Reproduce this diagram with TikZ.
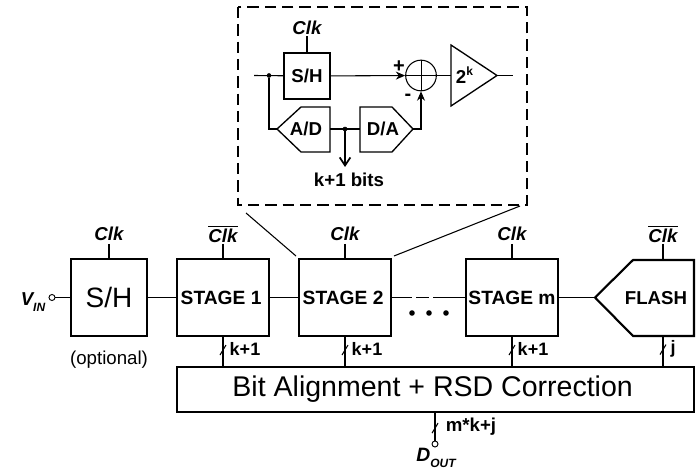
\documentclass[tikz,border=0pt]{standalone}
\usepackage{fontspec}
\setmainfont{Liberation Sans}
\usetikzlibrary{calc,arrows.meta}
\tikzset{
	wire/.style={line width=0.8pt},
	buswire/.style={line width=1.3pt},
	solidhead/.style={-{Stealth[length=7pt,width=6pt]}},
	barbhead/.style={-{Straight Barb[length=6pt,width=8pt]}},
	bigbox/.style={draw, line width=1.6pt, inner sep=0pt, minimum height=57.5pt},
	smallbox/.style={draw, line width=1pt, inner sep=0pt, minimum width=34.5pt, minimum height=34.5pt, font=\bfseries\fontsize{14}{15}\selectfont},
	stagebox/.style={bigbox, minimum width=69pt, font=\bfseries\fontsize{14.4}{15}\selectfont},
	clklabel/.style={font=\bfseries\itshape\fontsize{14}{16}\selectfont, inner sep=1pt},
	buslabel/.style={font=\bfseries\fontsize{13.5}{15}\selectfont, inner sep=0pt},
	blocktext/.style={font=\bfseries\fontsize{14}{15}\selectfont, inner sep=0pt},
	pin/.style={draw, circle, fill=white, line width=0.7pt, inner sep=0pt, minimum size=4.5pt},
	jointdot/.style={draw, circle, fill=black, inner sep=0pt, minimum size=3pt}
}
\def\bustick(#1){\draw[line width=0.8pt] ($(#1)+(-3,5)$) -- ($(#1)+(3,-5)$);}
\begin{document}
\begin{tikzpicture}[x=0.75pt,y=-0.75pt]
		%%%%% START %%%%%
		\useasboundingbox (0,0) rectangle (698,473);
		
		% detail of one stage
		\draw[line width=1.5pt, dash pattern=on 8.5pt off 4.5pt] (238,7) rectangle (527,205);
		
		\coordinate (inlet) at (254,75.5);
		\node[jointdot] (split) at (269,75.5) {};
		\node[smallbox] (innersh) at (307,76) {S/H};
		\node[clklabel] (innerclk) at (307,28) {Clk};
		\node[draw, circle, wire, inner sep=0pt, minimum size=23pt] (sum) at (421,75.5) {};
		\draw[line width=0.5pt] (sum.west) -- (sum.east) (sum.north) -- (sum.south);
		\node[font=\bfseries\fontsize{15}{15}\selectfont, inner sep=0pt] (plus) at (399,67) {+};
		\node[font=\bfseries\fontsize{15}{15}\selectfont, inner sep=0pt] (minus) at (408,97) {-};
		
		\coordinate (amplin) at (451,75.5);
		\coordinate (amptip) at (497,75.5);
		\coordinate (ampout) at (513,75.5);
		\draw[line width=1pt] (451,45) -- (amptip) -- (451,106) -- cycle;
		\node[blocktext] (gain) at (464.5,75) {2\raisebox{0.45em}{\fontsize{9}{9}\selectfont k}};
		
		\coordinate (adtip) at (277,129);
		\coordinate (adout) at (330,129);
		\coordinate (datip) at (413,129);
		\coordinate (dain) at (360,129);
		\draw[line width=1pt] (adtip) -- (301,107) -- (330,107) -- (330,152) -- (301,152) -- cycle;
		\draw[line width=1pt] (dain |- 0,107) -- (392,107) -- (datip) -- (392,152) -- (dain |- 0,152) -- cycle;
		\node[blocktext] (adtext) at (306,129) {A/D};
		\node[blocktext] (datext) at (383,129) {D/A};
		\node[jointdot] (tap) at (345,129) {};
		\node[buslabel, font=\bfseries\fontsize{14}{15}\selectfont] (bits) at (349,180) {k+1 bits};
		\coordinate (tapend) at (345,167);
		
		\draw[wire] (inlet) -- (innersh);
		\draw[wire] (innerclk) -- (innersh);
		\draw[wire, solidhead] (innersh) -- (sum);
		\draw[wire] (sum) -- (amplin);
		\draw[wire] (amptip) -- (ampout);
		\draw[wire] (split) |- (adtip);
		\draw[buswire] (adout) -- (dain);
		\draw[buswire, barbhead] (tap) -- (tapend);
		\draw[wire, solidhead] (datip) -| (sum);
		
		% zoom lines
		\coordinate (zoomla) at (246,213);
		\coordinate (zoomlb) at (296,256);
		\coordinate (zoomra) at (520,206);
		\coordinate (zoomrb) at (394,256);
		\draw[wire] (zoomla) -- (zoomlb);
		\draw[wire] (zoomra) -- (zoomrb);
		
		% main chain
		\node[bigbox, minimum width=57pt, font=\fontsize{21}{24}\selectfont] (sh) at (109,297.5) {S/H};
		\node[stagebox] (stage1) at (223,297.5) {\hspace*{-0.2em}STAGE 1};
		\node[stagebox] (stage2) at (345,297.5) {\hspace*{-0.2em}STAGE 2};
		\node[stagebox] (stagem) at (512,297.5) {STAGE m};
		
		\coordinate (flashtip) at (595,297.5);
		\coordinate (flashtop) at (663,260);
		\coordinate (flashbot) at (663,336);
		\draw[line width=1.6pt] (flashtip) -- (633,260) -- (694,260) -- (694,336) -- (633,336) -- cycle;
		\node[blocktext] (flash) at (656,298) {FLASH};
		
		\node[draw, line width=1.4pt, inner sep=0pt, minimum width=387.75pt, minimum height=33.75pt, font=\fontsize{21.4}{24}\selectfont] (bit) at (435.5,389.5) {\hspace*{-0.2em}Bit Alignment + RSD Correction};
		
		\node[pin] (vin) at (52,297.5) {};
		\node[clklabel] (vinlabel) at (33,302) {V\raisebox{-0.35em}{\fontsize{9}{9}\selectfont IN}};
		\node[font=\fontsize{14}{16}\selectfont, inner sep=0pt] (optional) at (109,360) {(optional)};
		
		\node[clklabel] (clk0) at (109,234) {Clk};
		\node[clklabel] (clk1) at (223,234) {$\overline{\hbox{Clk}}$};
		\node[clklabel] (clk2) at (345,234) {Clk};
		\node[clklabel] (clkm) at (512,234) {Clk};
		\node[clklabel] (clkf) at (663,234) {$\overline{\hbox{Clk}}$};
		
		\foreach \clkname/\boxname in {clk0/sh, clk1/stage1, clk2/stage2, clkm/stagem}
			\draw[wire] (\clkname.south |- 0,244) -- (\boxname.north);
		\draw[wire] (clkf.south |- 0,244) -- (flashtop);
		
		\draw[wire] (vin) -- (sh);
		\draw[wire] (sh) -- (stage1);
		\draw[wire] (stage1) -- (stage2);
		\draw[wire, dash pattern=on 15pt off 3pt on 10pt off 3pt on 30pt] (stage2) -- (stagem);
		\draw[wire] (stagem) -- (flashtip);
		
		\foreach \dotx in {412,429,446}
			\fill (\dotx,313) circle (2.8);
		
		% buses to the correction block
		\foreach \boxname in {stage1, stage2, stagem} {
			\draw[buswire] (\boxname.south) -- (\boxname.south |- bit.north) coordinate[pos=0.45] (t\boxname);
			\bustick(t\boxname)
		}
		\draw[buswire] (flashbot) -- (flashbot |- bit.north) coordinate[pos=0.45] (tflash);
		\bustick(tflash)
		
		\node[buslabel] (n1) at (245,349) {k+1};
		\node[buslabel] (n2) at (367,349) {k+1};
		\node[buslabel] (n3) at (533,349) {k+1};
		\node[buslabel] (n4) at (673,349) {j};
		
		\node[pin] (dout) at (435,444) {};
		\node[clklabel, font=\bfseries\itshape\fontsize{14.5}{16}\selectfont] (doutlabel) at (436,458) {D\raisebox{-0.35em}{\fontsize{9}{9}\selectfont OUT}};
		\draw[buswire] (dout |- bit.south) -- (dout) coordinate[pos=0.55] (tout);
		\bustick(tout)
		\node[buslabel, font=\bfseries\fontsize{14}{15}\selectfont] (n5) at (471,427) {m*k+j};
		
		%%%%% END %%%%%
	\end{tikzpicture}
\end{document}
